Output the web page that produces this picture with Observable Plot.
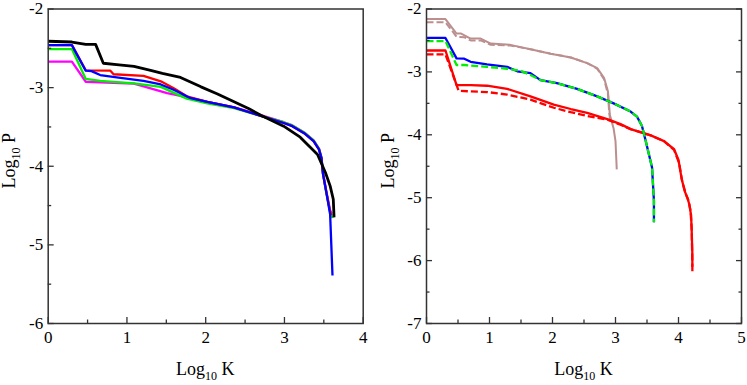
<!DOCTYPE html>
<html><head><meta charset="utf-8">
<script src="https://cdn.jsdelivr.net/npm/d3@7"></script>
<script src="https://cdn.jsdelivr.net/npm/@observablehq/plot@0.6"></script>
<style>
html,body{margin:0;padding:0;background:#fff;}
#wrap{display:flex;width:747px;height:385px;overflow:hidden;}
#wrap svg text{font-family:"Liberation Serif","Times New Roman",serif;}
</style></head><body><div id="wrap"></div>
<script>
// ---------- Left panel data (Log10 K, Log10 P) ----------
const leftBlackK   = [0, 0.301, 0.477, 0.602, 0.70, 0.90, 1.09, 1.30, 1.45, 1.68, 1.94, 2.15, 2.36, 2.55, 2.70, 2.99, 3.20, 3.42, 3.52, 3.58, 3.62, 3.63];
const leftBlackP   = [-2.41, -2.42, -2.45, -2.45, -2.69, -2.71, -2.73, -2.78, -2.82, -2.87, -2.99, -3.08, -3.18, -3.27, -3.35, -3.49, -3.63, -3.85, -4.08, -4.25, -4.42, -4.65];
const leftRedK     = [0, 0.301, 0.477, 0.79, 0.83, 1.21, 1.43, 1.60, 1.76, 2.02, 2.36, 2.70, 2.99, 3.10, 3.25, 3.37, 3.44, 3.47, 3.49, 3.53, 3.58, 3.60];
const leftRedP     = [-2.46, -2.46, -2.78, -2.785, -2.83, -2.85, -2.92, -3.01, -3.11, -3.18, -3.25, -3.36, -3.45, -3.49, -3.58, -3.68, -3.79, -3.90, -4.10, -4.32, -4.58, -4.62];
const leftBlueK    = [0, 0.301, 0.477, 0.55, 0.66, 0.87, 1.21, 1.43, 1.60, 1.81, 2.02, 2.36, 2.70, 2.99, 3.10, 3.25, 3.37, 3.44, 3.47, 3.49, 3.53, 3.58, 3.61];
const leftBlueP    = [-2.46, -2.46, -2.785, -2.79, -2.84, -2.87, -2.915, -2.96, -3.03, -3.135, -3.18, -3.25, -3.36, -3.45, -3.49, -3.58, -3.68, -3.79, -3.90, -4.10, -4.32, -4.61, -5.39];
const leftGreenK   = [0, 0.301, 0.477, 0.66, 1.09, 1.43, 1.76, 2.02, 2.36, 2.70, 2.99, 3.10, 3.25, 3.37, 3.44, 3.47, 3.49, 3.53, 3.58, 3.61];
const leftGreenP   = [-2.51, -2.51, -2.89, -2.915, -2.945, -2.99, -3.14, -3.20, -3.26, -3.36, -3.44, -3.48, -3.57, -3.67, -3.78, -3.89, -4.10, -4.33, -4.58, -4.66];
const leftMagentaK = [0, 0.301, 0.477, 1.09, 1.51, 1.76, 2.02, 2.36, 2.70, 2.99, 3.10, 3.25, 3.37, 3.44, 3.47, 3.49, 3.53, 3.58, 3.60];
const leftMagentaP = [-2.67, -2.67, -2.925, -2.95, -3.07, -3.12, -3.18, -3.25, -3.35, -3.44, -3.48, -3.57, -3.67, -3.78, -3.89, -4.09, -4.31, -4.56, -4.60];

// ---------- Right panel data ----------
const rightBrownK      = [0, 0.301, 0.477, 0.55, 0.70, 0.86, 1.02, 1.33, 1.65, 1.97, 2.29, 2.55, 2.71, 2.82, 2.88, 2.91, 2.97, 3.00, 3.02];
const rightBrownP      = [-2.16, -2.16, -2.39, -2.39, -2.47, -2.47, -2.55, -2.57, -2.64, -2.71, -2.77, -2.86, -2.94, -3.10, -3.31, -3.68, -3.90, -4.10, -4.55];
const rightBrownDashK  = [0, 0.301, 0.477, 0.602, 0.70, 0.86, 1.02, 1.33, 1.65, 1.97, 2.29, 2.55, 2.71, 2.82, 2.88, 2.90, 2.92];
const rightBrownDashP  = [-2.21, -2.21, -2.44, -2.45, -2.50, -2.50, -2.57, -2.58, -2.64, -2.71, -2.77, -2.86, -2.95, -3.12, -3.35, -3.65, -3.80];
const rightBlueK       = [0, 0.301, 0.477, 0.60, 0.70, 0.96, 1.28, 1.44, 1.65, 1.81, 2.07, 2.39, 2.71, 2.97, 3.24, 3.34, 3.42, 3.48, 3.53, 3.58, 3.61, 3.61];
const rightBlueP       = [-2.46, -2.46, -2.785, -2.79, -2.84, -2.88, -2.92, -2.99, -3.02, -3.13, -3.18, -3.27, -3.39, -3.50, -3.63, -3.71, -3.86, -4.10, -4.31, -4.52, -5.05, -5.39];
const rightGreenDashK  = [0, 0.301, 0.477, 0.60, 0.96, 1.28, 1.49, 1.65, 1.81, 2.07, 2.39, 2.71, 2.97, 3.24, 3.34, 3.42, 3.48, 3.53, 3.58, 3.61, 3.61];
const rightGreenDashP  = [-2.51, -2.51, -2.89, -2.89, -2.92, -2.95, -2.98, -3.05, -3.13, -3.18, -3.27, -3.39, -3.50, -3.63, -3.71, -3.86, -4.10, -4.31, -4.52, -5.05, -5.39];
const rightRedK        = [0, 0.301, 0.477, 0.70, 0.96, 1.28, 1.65, 2.02, 2.29, 2.55, 2.87, 3.08, 3.24, 3.56, 3.77, 3.93, 4.00, 4.05, 4.10, 4.14, 4.17, 4.20, 4.21, 4.22, 4.22];
const rightRedP        = [-2.66, -2.66, -3.21, -3.21, -3.22, -3.27, -3.39, -3.52, -3.59, -3.65, -3.75, -3.83, -3.91, -4.01, -4.10, -4.23, -4.40, -4.70, -4.90, -5.00, -5.10, -5.28, -5.55, -5.90, -6.17];
const rightRedDashK    = [0, 0.301, 0.51, 0.70, 0.96, 1.28, 1.65, 2.02, 2.29, 2.55, 2.87, 3.08, 3.24, 3.56, 3.77, 3.93, 4.01, 4.06, 4.12, 4.16, 4.19, 4.21, 4.22];
const rightRedDashP    = [-2.72, -2.72, -3.30, -3.31, -3.32, -3.36, -3.44, -3.57, -3.64, -3.70, -3.76, -3.84, -3.91, -4.01, -4.10, -4.24, -4.45, -4.75, -4.95, -5.05, -5.20, -5.50, -6.10];

// ---------- Axis ticks ----------
const leftXTicks  = [0, 1, 2, 3, 4];
const leftXMinor  = [0.5, 1.5, 2.5, 3.5];
const leftYTicks  = [-6, -5, -4, -3, -2];
const leftYMinor  = [-5.5, -4.5, -3.5, -2.5];
const rightXTicks = [0, 1, 2, 3, 4, 5];
const rightXMinor = [0.5, 1.5, 2.5, 3.5, 4.5];
const rightYTicks = [-7, -6, -5, -4, -3, -2];
const rightYMinor = [-6.5, -5.5, -4.5, -3.5, -2.5];

const rows = (K, P) => K.map((k, i) => ({K: k, P: P[i]}));
const FONT = "'Liberation Serif', 'Times New Roman', serif";
const AX = "#333";

function panel(o) {
  const marks = [];
  for (const l of o.lines) {
    marks.push(Plot.line(rows(l.K, l.P), {x: "K", y: "P", stroke: l.color, strokeWidth: l.width,
      strokeDasharray: l.dash, strokeLinejoin: "round", strokeLinecap: "butt"}));
  }
  marks.push(Plot.frame({stroke: AX, strokeWidth: 1.5}));
  const txt = {fontFamily: FONT, fontSize: 17, fill: "black"};
  marks.push(Plot.axisX(o.xTicks, {anchor: "bottom", tickSize: -6, tickPadding: 13, stroke: AX, strokeWidth: 1.3, tickFormat: d => String(d), label: null, ...txt}));
  marks.push(Plot.axisX(o.xMinor, {anchor: "bottom", tickSize: -3.5, stroke: AX, strokeWidth: 1.3, tickFormat: () => "", label: null}));
  marks.push(Plot.axisY(o.yTicks, {anchor: "left", tickSize: -6, tickPadding: 11, stroke: AX, strokeWidth: 1.3, tickFormat: d => String(d), label: null, ...txt}));
  marks.push(Plot.axisY(o.yMinor, {anchor: "left", tickSize: -3.5, stroke: AX, strokeWidth: 1.3, tickFormat: () => "", label: null}));
  if (o.rightTicks) {
    marks.push(Plot.axisY(o.yTicks, {anchor: "right", tickSize: -6, stroke: AX, strokeWidth: 1.3, tickFormat: () => "", label: null}));
    marks.push(Plot.axisY(o.yMinor, {anchor: "right", tickSize: -3.5, stroke: AX, strokeWidth: 1.3, tickFormat: () => "", label: null}));
  }
  const chart = Plot.plot({
    width: o.width, height: 385,
    marginTop: 8.5, marginBottom: 62, marginLeft: o.marginLeft, marginRight: o.marginRight,
    x: {domain: o.xDomain}, y: {domain: o.yDomain},
    style: {fontFamily: FONT, fontSize: "17px", background: "white", color: "black", overflow: "visible"},
    marks
  });
  const xr = chart.scale("x").range, yr = chart.scale("y").range;
  const svg = d3.select(chart);
  const xc = (xr[0] + xr[1]) / 2, yc = (yr[0] + yr[1]) / 2;
  const tx = svg.append("text").attr("x", xc).attr("y", 375).attr("text-anchor", "middle")
    .attr("font-family", FONT).attr("font-size", 18).attr("fill", "black");
  tx.append("tspan").text("Log");
  tx.append("tspan").attr("font-size", 12).attr("dy", 5).text("10");
  tx.append("tspan").attr("dy", -5).text("\u00a0K");
  const ty = svg.append("text").attr("transform", `translate(${o.yLabelX},${yc - 5}) rotate(-90)`).attr("text-anchor", "middle")
    .attr("font-family", FONT).attr("font-size", 18).attr("fill", "black");
  ty.append("tspan").text("Log");
  ty.append("tspan").attr("font-size", 12).attr("dy", 5).text("10");
  ty.append("tspan").attr("dy", -5).text("\u00a0P");
  return chart;
}

const wrap = document.getElementById("wrap");
wrap.append(panel({
  width: 375, marginLeft: 47.7, marginRight: 12.3,
  xDomain: [0, 4], yDomain: [-6, -2], xTicks: leftXTicks, xMinor: leftXMinor, yTicks: leftYTicks, yMinor: leftYMinor,
  rightTicks: false, yLabelX: 15,
  lines: [
    {K: leftMagentaK, P: leftMagentaP, color: "#ff00ff", width: 2.3},
    {K: leftGreenK, P: leftGreenP, color: "#00f000", width: 2.3},
    {K: leftRedK, P: leftRedP, color: "#ff0000", width: 2.3},
    {K: leftBlueK, P: leftBlueP, color: "#0000ff", width: 2.3},
    {K: leftBlackK, P: leftBlackP, color: "#000000", width: 2.8}
  ]
}));
wrap.append(panel({
  width: 372, marginLeft: 51, marginRight: 6,
  xDomain: [0, 5], yDomain: [-7, -2], xTicks: rightXTicks, xMinor: rightXMinor, yTicks: rightYTicks, yMinor: rightYMinor,
  rightTicks: true, yLabelX: 19,
  lines: [
    {K: rightBrownDashK, P: rightBrownDashP, color: "#bc8f8f", width: 2, dash: "7,3"},
    {K: rightBrownK, P: rightBrownP, color: "#bc8f8f", width: 2},
    {K: rightRedDashK, P: rightRedDashP, color: "#ff0000", width: 2.3, dash: "7,3"},
    {K: rightRedK, P: rightRedP, color: "#ff0000", width: 2.3},
    {K: rightBlueK, P: rightBlueP, color: "#0000ff", width: 2.3},
    {K: rightGreenDashK, P: rightGreenDashP, color: "#00f000", width: 2.3, dash: "7,3"}
  ]
}));
</script></body></html>
